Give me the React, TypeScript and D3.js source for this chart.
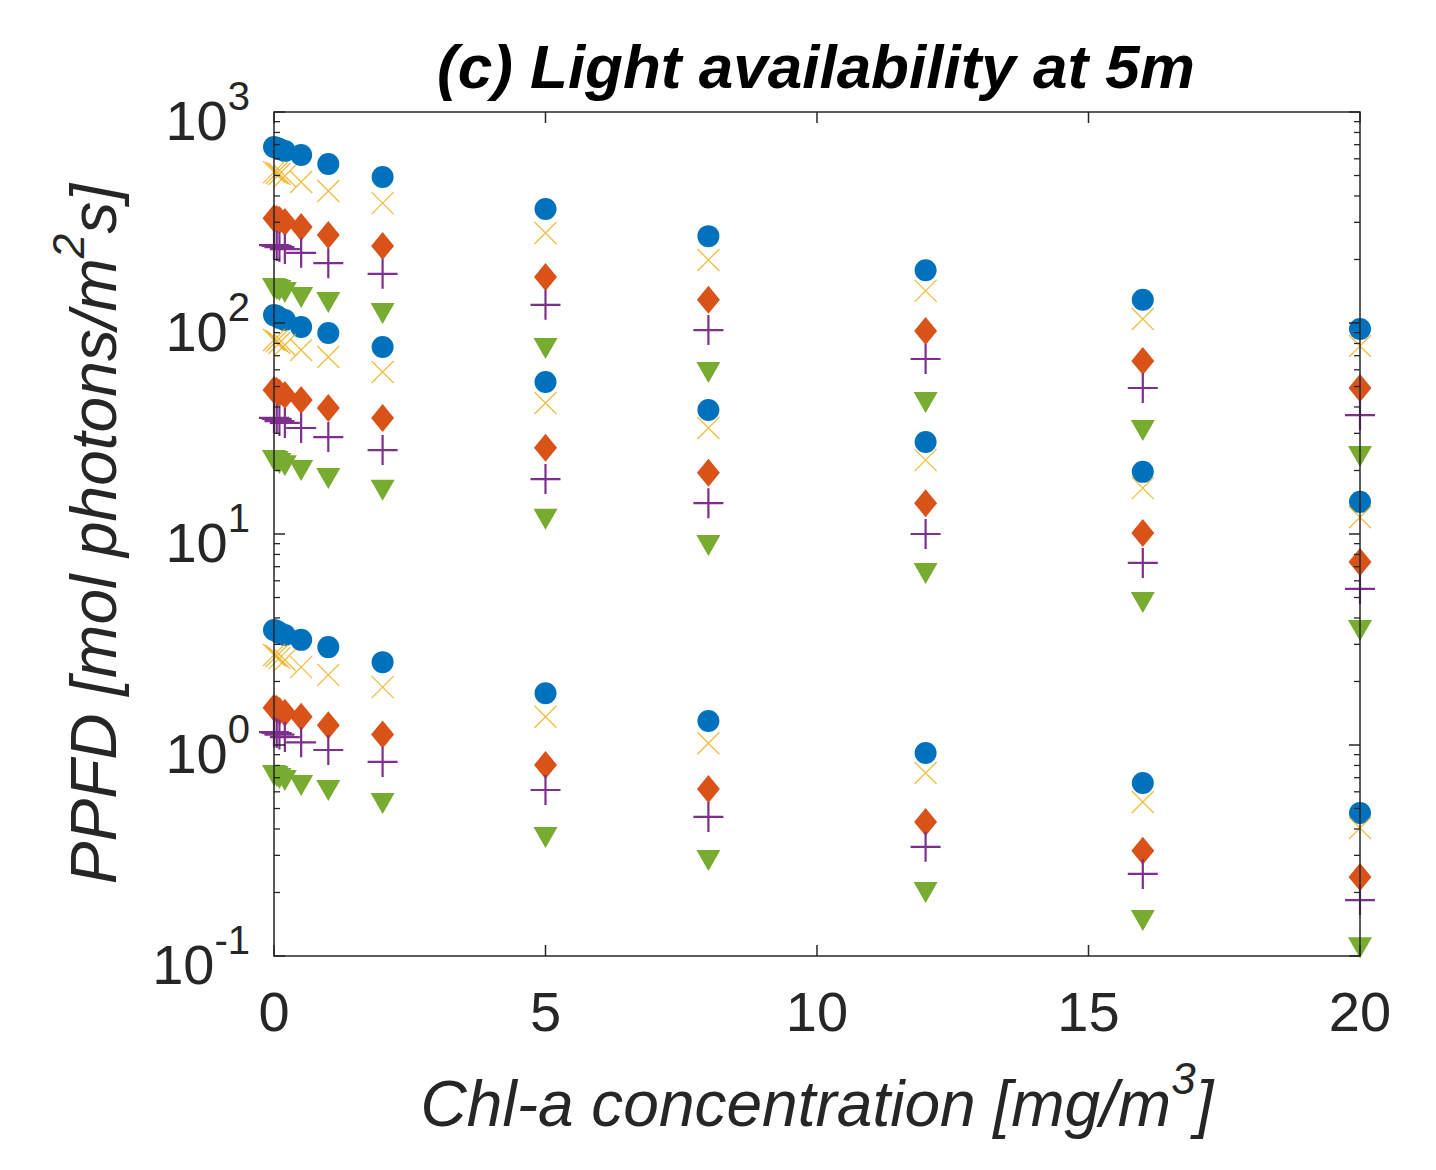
import React from 'react';
import * as d3 from 'd3';

// Chl-a concentrations [mg/m^3]
const chl = [0, 0.05, 0.1, 0.2, 0.5, 1, 2, 5, 8, 12, 16, 20];

// PPFD, upper group
const blueHigh = [682, 675, 668, 654, 626, 567, 492, 347, 258, 178, 129, 93.7];
const yellowHigh = [519, 514, 508, 497, 466, 422, 370, 267, 199, 142, 104.5, 77.8];
const orangeHigh = [314, 311, 308, 301, 285, 261, 232, 165, 129, 91.6, 66.1, 49.2];
const purpleHigh = [234, 232, 229, 224, 215, 192, 171, 122, 92.6, 67.5, 49.2, 36.6];
const greenHigh = [146.6, 145, 143.3, 140.3, 132.8, 125.8, 111.5, 76.1, 58.6, 42.2, 31.1, 23.4];

// PPFD, middle group
const blueMid = [109, 108, 105.6, 103.3, 95.7, 89.7, 76.9, 52.5, 38.7, 27.3, 19.7, 14.2];
const yellowMid = [83.1, 82.2, 80.4, 78.7, 74.5, 69.0, 58.6, 41.8, 31.8, 22.4, 16.5, 12.0];
const orangeMid = [48.1, 47.6, 46.6, 45.6, 43.2, 39.5, 35.5, 25.6, 19.5, 14.0, 10.1, 7.37];
const purpleMid = [35.5, 35.1, 34.3, 33.6, 31.8, 28.8, 25.0, 18.2, 14.0, 10.0, 7.29, 5.49];
const greenMid = [22.4, 22.2, 21.7, 21.2, 20.1, 18.4, 16.2, 11.8, 8.87, 6.54, 4.76, 3.51];

// PPFD, lower group
const blueLow = [3.51, 3.47, 3.40, 3.32, 3.15, 2.91, 2.47, 1.76, 1.30, 0.917, 0.661, 0.476];
const yellowLow = [2.67, 2.64, 2.58, 2.53, 2.34, 2.15, 1.88, 1.36, 1.02, 0.737, 0.537, 0.404];
const orangeLow = [1.50, 1.48, 1.45, 1.42, 1.36, 1.24, 1.12, 0.804, 0.619, 0.432, 0.315, 0.237];
const purpleLow = [1.15, 1.14, 1.12, 1.09, 1.03, 0.947, 0.831, 0.612, 0.456, 0.329, 0.245, 0.184];
const greenLow = [0.721, 0.713, 0.698, 0.682, 0.646, 0.612, 0.531, 0.366, 0.285, 0.201, 0.148, 0.110];

const xTicks = [0, 5, 10, 15, 20];
const yDecades = [-1, 0, 1, 2, 3];

const COLORS = {
  blue: '#0072BD',
  orange: '#D95319',
  yellow: '#EDB120',
  purple: '#7E2F8E',
  green: '#77AC30',
};

const W = 1436;
const H = 1170;
const m = { left: 274, right: 1360, top: 112, bottom: 956 };
const FONT = '"Liberation Sans", Arial, Helvetica, sans-serif';
const AX = '#262626';

const x = d3.scaleLinear().domain([0, 20]).range([m.left, m.right]);
const y = d3.scaleLog().domain([0.1, 1000]).range([m.bottom, m.top]);

type Kind = 'circle' | 'cross' | 'diamond' | 'plus' | 'tri';

const Marker = ({ kind, cx, cy }: { kind: Kind; cx: number; cy: number }) => {
  if (kind === 'circle') return <circle cx={cx} cy={cy} r={11} fill={COLORS.blue} />;
  if (kind === 'cross') {
    const s = 11;
    return (
      <path
        d={`M${cx - s},${cy - s}L${cx + s},${cy + s}M${cx - s},${cy + s}L${cx + s},${cy - s}`}
        stroke={COLORS.yellow}
        strokeWidth={1.3}
        strokeOpacity={0.85}
        fill="none"
      />
    );
  }
  if (kind === 'diamond') {
    return (
      <path
        d={`M${cx},${cy - 14}L${cx + 11.5},${cy}L${cx},${cy + 14}L${cx - 11.5},${cy}Z`}
        fill={COLORS.orange}
      />
    );
  }
  if (kind === 'plus') {
    const s = 15;
    return (
      <path
        d={`M${cx - s},${cy}L${cx + s},${cy}M${cx},${cy - s}L${cx},${cy + s}`}
        stroke={COLORS.purple}
        strokeWidth={2.2}
        fill="none"
      />
    );
  }
  return (
    <path
      d={`M${cx - 12},${cy - 10}L${cx + 12},${cy - 10}L${cx},${cy + 11}Z`}
      fill={COLORS.green}
    />
  );
};

const groups = [
  [blueHigh, yellowHigh, orangeHigh, purpleHigh, greenHigh],
  [blueMid, yellowMid, orangeMid, purpleMid, greenMid],
  [blueLow, yellowLow, orangeLow, purpleLow, greenLow],
];
const kinds: Kind[] = ['circle', 'cross', 'diamond', 'plus', 'tri'];

export default function App() {
  const minor: number[] = [];
  yDecades.slice(0, -1).forEach((e) => {
    for (let k = 2; k <= 9; k++) minor.push(k * Math.pow(10, e));
  });

  return (
    <div>
      <style>{'body{margin:0}'}</style>
      <svg width={W} height={H} style={{ display: 'block', background: '#fff' }}>
        {/* markers */}
        {groups.map((g, gi) =>
          g.map((vals, si) =>
            vals.map((v, i) => (
              <Marker key={`${gi}-${si}-${i}`} kind={kinds[si]} cx={x(chl[i])} cy={y(v)} />
            ))
          )
        )}

        {/* box */}
        <rect
          x={m.left}
          y={m.top}
          width={m.right - m.left}
          height={m.bottom - m.top}
          fill="none"
          stroke={AX}
          strokeWidth={1.5}
        />

        {/* x ticks */}
        {xTicks.map((t) => (
          <g key={`xt${t}`}>
            <line x1={x(t)} x2={x(t)} y1={m.bottom} y2={m.bottom - 11} stroke={AX} strokeWidth={1.5} />
            <line x1={x(t)} x2={x(t)} y1={m.top} y2={m.top + 11} stroke={AX} strokeWidth={1.5} />
            <text
              x={x(t)}
              y={1031}
              textAnchor="middle"
              fontFamily={FONT}
              fontSize={56}
              fill={AX}
            >
              {t}
            </text>
          </g>
        ))}

        {/* y ticks */}
        {yDecades.map((e) => {
          const v = Math.pow(10, e);
          return (
            <g key={`yt${e}`}>
              <line x1={m.left} x2={m.left + 11} y1={y(v)} y2={y(v)} stroke={AX} strokeWidth={1.5} />
              <line x1={m.right} x2={m.right - 11} y1={y(v)} y2={y(v)} stroke={AX} strokeWidth={1.5} />
              <text
                x={250}
                y={y(v) + 28}
                textAnchor="end"
                fontFamily={FONT}
                fontSize={56}
                fill={AX}
              >
                10
                <tspan fontSize={40} dy={-30}>
                  {e}
                </tspan>
              </text>
            </g>
          );
        })}
        {minor.map((v, i) => (
          <g key={`mn${i}`}>
            <line x1={m.left} x2={m.left + 6} y1={y(v)} y2={y(v)} stroke={AX} strokeWidth={1.3} />
            <line x1={m.right} x2={m.right - 6} y1={y(v)} y2={y(v)} stroke={AX} strokeWidth={1.3} />
          </g>
        ))}

        {/* title */}
        <text
          x={816}
          y={88}
          textAnchor="middle"
          fontFamily={FONT}
          fontSize={62}
          fontWeight="bold"
          fontStyle="italic"
          fill="#000"
        >
          (c) Light availability at 5m
        </text>

        {/* x label */}
        <text
          x={817}
          y={1126}
          textAnchor="middle"
          fontFamily={FONT}
          fontSize={64}
          fontStyle="italic"
          fill={AX}
        >
          Chl-a concentration [mg/m
          <tspan fontSize={44} dy={-32}>3</tspan>
          <tspan dy={32}>]</tspan>
        </text>

        {/* y label */}
        <text
          transform={`translate(116,${(m.top + m.bottom) / 2}) rotate(-90)`}
          textAnchor="middle"
          fontFamily={FONT}
          fontSize={64}
          fontStyle="italic"
          fill={AX}
        >
          PPFD [mol photons/m
          <tspan fontSize={44} dy={-32}>2</tspan>
          <tspan dy={32}>s]</tspan>
        </text>
      </svg>
    </div>
  );
}
